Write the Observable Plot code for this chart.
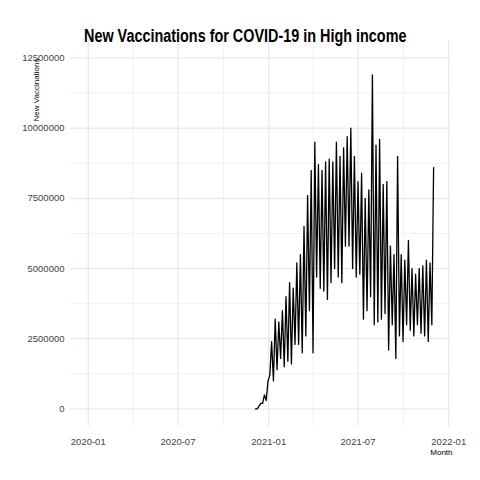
<!DOCTYPE html>
<html><head><meta charset="utf-8">
<script src="https://cdn.jsdelivr.net/npm/d3@7"></script>
<script src="https://cdn.jsdelivr.net/npm/@observablehq/plot@0.6"></script>
<style>
body{margin:0;background:#fff;font-family:"Liberation Sans",sans-serif}
#wrap{position:relative;width:480px;height:480px}
#title{position:absolute;top:26px;left:84px;width:328px;white-space:nowrap;font-size:18px;font-weight:bold;color:#000;transform:scaleX(0.8);transform-origin:left top}
</style></head><body>
<div id="wrap"><div id="title">New Vaccinations for COVID-19 in High income</div><div id="chart"></div></div>
<script>
// weekly highs and lows (millions), one pair per week starting Dec 2020
const peaks = [0,0.2,0.5, 1.0,2.4,3.2,3.1,3.5, 4.0,4.5,4.3,5.2, 5.5,6.5,7.6,8.5, 9.5,8.7,8.5,8.8,8.9,
  8.8,9.5,9.0,9.3, 9.7,10.0,9.0,8.1, 8.4,7.5,7.8,11.9,9.4, 9.6,8.0,8.1,5.8, 5.5,9.0,5.5,5.3,
  6.0,5.0,4.8,5.0, 5.1,5.3,5.2,8.6];
const troughs = [0,0.1,0.2, 0.3,1.2,1.0,1.4,1.8, 1.5,1.7,1.6,2.3, 2.3,2.0,2.6,3.5, 2.0,4.7,4.3,4.2,3.9,
  4.5,5.0,4.7,4.5, 5.8,5.8,5.0,4.7, 4.8,3.2,3.5,4.0,3.0, 3.1,3.2,3.4,2.1, 3.0,1.8,2.6,2.4,
  3.0,2.8,2.6,3.0, 2.7,2.6,2.4,3.0];
const startDate = new Date(2020, 11, 5);
const yTicks = [0, 2500000, 5000000, 7500000, 10000000, 12500000];
const xTicks = ["2020-01","2020-07","2021-01","2021-07","2022-01"];
const xMinor = ["2020-04","2020-10","2021-04","2021-10"];

const data = [];
peaks.forEach((p, i) => {
  data.push({date: d3.timeHour.offset(startDate, Math.round(i * 7.3 * 24)), v: troughs[i] * 1e6});
  data.push({date: d3.timeHour.offset(startDate, Math.round((i * 7.3 + 3.6) * 24)), v: p * 1e6});
});
const parse = s => new Date(s + "-01T00:00");
const minorY = yTicks.slice(0, -1).map(t => t + 1250000);

const chart = Plot.plot({
  width: 480, height: 480,
  marginLeft: 70, marginRight: 14, marginTop: 40, marginBottom: 54,
  style: {fontFamily: "Liberation Sans, sans-serif", fontSize: "9.5px", color: "#444"},
  x: {type: "time", domain: [new Date(2019, 10, 26), new Date(2022, 1, 6)], label: null},
  y: {domain: [-625000, 13125000], label: null},
  marks: [
    Plot.ruleY(minorY, {stroke: "#f2f2f2", x1: new Date(2019, 10, 26), x2: new Date(2022, 0, 5)}),
    Plot.ruleX(xMinor.map(parse), {stroke: "#f2f2f2", y1: -625000, y2: 13125000}),
    Plot.ruleY(yTicks, {stroke: "#e3e3e3", x1: new Date(2019, 10, 26), x2: new Date(2022, 0, 5)}),
    Plot.ruleX(xTicks.map(parse), {stroke: "#e3e3e3", y1: -625000, y2: 13125000}),
    Plot.line(data, {x: "date", y: "v", stroke: "black", strokeWidth: 1.3}),
    Plot.axisX({ticks: xTicks.map(parse), tickFormat: d3.timeFormat("%Y-%m"), tickSize: 0, tickPadding: 12, label: null}),
    Plot.axisY({ticks: yTicks, tickFormat: d => String(d), tickSize: 0, tickPadding: 6, label: null}),
    Plot.text(["Month"], {frameAnchor: "bottom-right", dy: 28, dx: -14, fontSize: 8, fill: "#000"}),
    Plot.text(["New Vaccinations"], {frameAnchor: "top-left", dx: -37, dy: 18, rotate: -90, textAnchor: "end", fontSize: 8, fill: "#000"})
  ]
});
d3.select("#chart").append(() => chart);
</script></body></html>
